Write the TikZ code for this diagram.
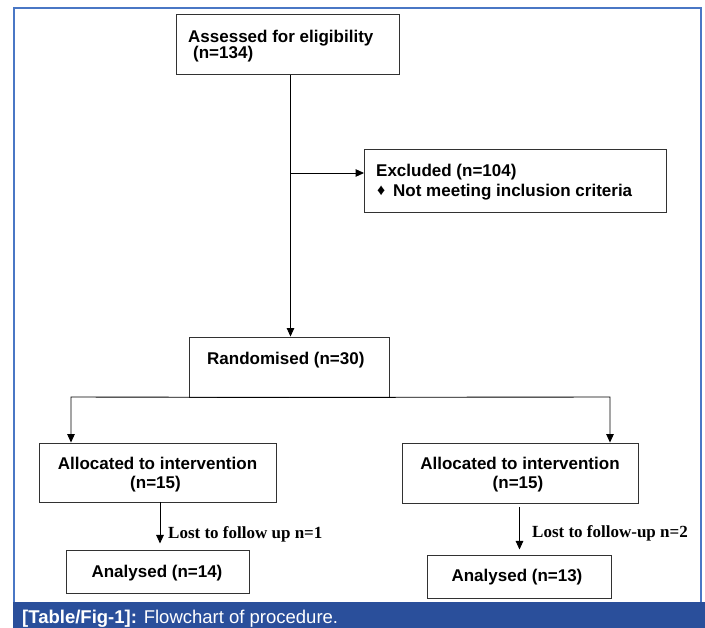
\documentclass[tikz,border=0pt]{standalone}
\usepackage{fontspec}
\setmainfont{Liberation Sans}
\newfontfamily\serifb{Liberation Serif}
\usetikzlibrary{arrows.meta,calc}
\definecolor{frameblue}{RGB}{74,119,197}
\definecolor{capblue}{RGB}{42,79,155}
\definecolor{boxline}{RGB}{50,50,50}
\tikzset{
  box/.style={draw=boxline, line width=0.9pt, rectangle, inner sep=0pt},
  txt/.style={font=\fontsize{17}{20}\selectfont\bfseries, inner sep=0pt, anchor=base west},
  ctxt/.style={font=\fontsize{17}{20}\selectfont\bfseries, inner sep=0pt, anchor=base},
  losttxt/.style={font=\serifb\fontsize{17}{20}\selectfont\bfseries, inner sep=0pt, anchor=base west},
  conn/.style={draw=black, line width=0.9pt},
  arr/.style={conn, -{Triangle[length=8.5pt,width=7.5pt]}},
}
\begin{document}
\begin{tikzpicture}[x=1pt,y=-1pt]
\useasboundingbox (0,0) rectangle (705,628);
\clip (0,0) rectangle (705,628);

% frame and caption band
\draw[frameblue, line width=2pt] (13.5,603) -- (13.5,8.5) -- (701,8.5) -- (701,603);
\fill[capblue] (13,602) rectangle (705,628);
\node[font=\fontsize{18.5}{22}\selectfont, text=white, inner sep=0pt, anchor=base west] (cap) at (22,623.5)
  {\textbf{[Table/Fig-1]:} Flowchart of procedure.};

% boxes
\node[box, minimum width=223pt, minimum height=60pt] (assess) at (287.5,44.5) {};
\node[box, minimum width=301.5pt, minimum height=63pt] (excl) at (515.25,180.5) {};
\node[box, minimum width=200pt, minimum height=60pt] (rand) at (289.5,367) {};
\node[box, minimum width=237pt, minimum height=59pt] (allocL) at (157.5,472.5) {};
\node[box, minimum width=236pt, minimum height=60pt] (allocR) at (520,473) {};
\node[box, minimum width=183.5pt, minimum height=43pt] (anaL) at (157.75,571.5) {};
\node[box, minimum width=184pt, minimum height=42.5pt] (anaR) at (519,576.75) {};

% texts
\node[txt] (t1a) at (188,42.5) {Assessed for eligibility};
\node[txt] (t1b) at (193,59) {(n=134)};
\node[txt] (t2a) at (376,177) {Excluded (n=104)};
\node[font=\fontsize{16}{18}\selectfont, inner sep=0pt, anchor=base west] (bullet) at (377,196) {♦};
\node[txt] (t2b) at (393,197) {Not meeting inclusion criteria};
\node[txt] (t3) at (207,365) {Randomised (n=30)};
\node[ctxt] (t4a) at (157.5,470) {Allocated to intervention};
\node[ctxt] (t4b) at (155.5,489) {(n=15)};
\node[ctxt] (t5a) at (520,470) {Allocated to intervention};
\node[ctxt] (t5b) at (518,489) {(n=15)};
\node[ctxt] (t6) at (157,577) {Analysed (n=14)};
\node[ctxt] (t7) at (517,581) {Analysed (n=13)};
\node[losttxt] (lostL) at (168,538) {Lost to follow up n=1};
\node[losttxt] (lostR) at (532,537) {Lost to follow-up n=2};

% connector coordinates
\coordinate (main) at (290.5,0);
\coordinate (branch) at (290.5,173);
\coordinate (sL) at (71,397);
\coordinate (sR) at (610,397);
\coordinate (lLstart) at (160,502);
\coordinate (lLend) at (160,543.5);
\coordinate (lRstart) at (519.5,507);
\coordinate (lRend) at (519.5,549.5);

% connectors
\draw[arr] (assess.south -| main) -- (rand.north -| main);
\draw[arr] (branch) -- (branch -| excl.west);
\draw[arr] (rand.south) -- (sL) -- (sL |- allocL.north);
\draw[arr] (rand.south) -- (sR) -- (sR |- allocR.north);
\draw[arr] (lLstart) -- (lLend);
\draw[arr] (lRstart) -- (lRend);
\end{tikzpicture}
\end{document}
